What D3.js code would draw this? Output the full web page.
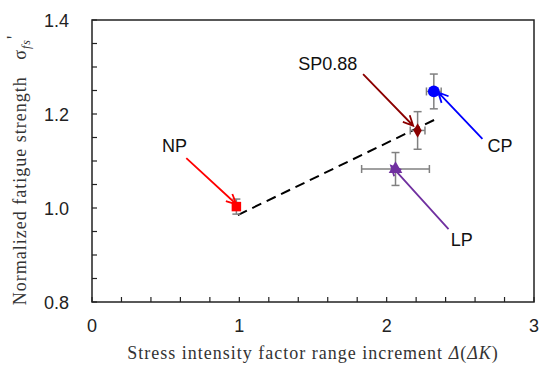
<!DOCTYPE html>
<meta charset="utf-8">
<head>
  <title>Normalized fatigue strength</title>
  <script src="https://d3js.org/d3.v7.min.js"></script>
  <style>
    body { margin: 0; background: #fff; }
    .tick-label { font-family: "Liberation Sans", Arial, sans-serif; font-size: 18px; fill: #222; }
    .axis-title { font-family: "Liberation Serif", "Times New Roman", serif; font-size: 18px; fill: #333; letter-spacing: 1px; }
    .note { font-family: "Liberation Sans", Arial, sans-serif; font-size: 18px; fill: #111; }
  </style>
</head>
<body>
<script>
  // Data
  var names = ["NP", "SP0.88", "CP", "LP"];
  var xValues = [0.98, 2.21, 2.32, 2.06];
  var yValues = [1.003, 1.165, 1.248, 1.083];
  var xErrors = [0.02, 0.05, 0.05, 0.23];
  var yErrors = [0.016, 0.04, 0.037, 0.035];
  var colors = ["#ff0000", "#8b0000", "#0000ff", "#7030a0"];
  var symbols = ["square", "diamond", "circle", "triangle"];

  // Linear trend (dashed)
  var trendX = [0.99, 2.34];
  var trendY = [0.985, 1.19];

  // Label and arrow tails, in data units; arrows end at the marker
  var labelX = [0.56, 1.60, 2.77, 2.51];
  var labelY = [1.119, 1.294, 1.119, 0.919];
  var tailX = [0.64, 1.84, 2.65, 2.42];
  var tailY = [1.106, 1.285, 1.147, 0.955];
  var headX = [0.98, 2.18, 2.35, 2.03];
  var headY = [1.008, 1.175, 1.246, 1.09];

  var xTicks = [0, 1, 2, 3];
  var yTicks = [0.8, 1.0, 1.2, 1.4];

  var width = 550, height = 375;
  var plotLeft = 92, plotRight = 534, plotTop = 20, plotBottom = 302;

  var x = d3.scaleLinear().domain([0, 3]).range([plotLeft, plotRight]);
  var y = d3.scaleLinear().domain([0.8, 1.4]).range([plotBottom, plotTop]);

  var svg = d3.select("body").append("svg")
    .attr("width", width)
    .attr("height", height);

  // Frame
  svg.append("rect")
    .attr("x", plotLeft).attr("y", plotTop)
    .attr("width", plotRight - plotLeft).attr("height", plotBottom - plotTop)
    .attr("fill", "none").attr("stroke", "#222").attr("stroke-width", 1.5);

  // Inner ticks
  var tickLen = 5;
  svg.append("g").selectAll("line")
    .data(d3.range(0, 3.0001, 0.2))
    .enter().append("line")
    .attr("x1", function(d) { return x(d); })
    .attr("x2", function(d) { return x(d); })
    .attr("y1", plotBottom).attr("y2", plotBottom - tickLen)
    .attr("stroke", "#222").attr("stroke-width", 1.2);

  svg.append("g").selectAll("line")
    .data(d3.range(0.8, 1.4001, 0.05))
    .enter().append("line")
    .attr("x1", plotLeft).attr("x2", plotLeft + tickLen)
    .attr("y1", function(d) { return y(d); })
    .attr("y2", function(d) { return y(d); })
    .attr("stroke", "#222").attr("stroke-width", 1.2);

  // Tick labels
  svg.append("g").selectAll("text")
    .data(xTicks)
    .enter().append("text")
    .attr("class", "tick-label")
    .attr("x", function(d) { return x(d); })
    .attr("y", plotBottom + 30)
    .attr("text-anchor", "middle")
    .text(function(d) { return d; });

  svg.append("g").selectAll("text")
    .data(yTicks)
    .enter().append("text")
    .attr("class", "tick-label")
    .attr("x", plotLeft - 23)
    .attr("y", function(d) { return y(d) + 7; })
    .attr("text-anchor", "end")
    .text(function(d) { return d.toFixed(1); });

  // Axis titles
  var xt = svg.append("text")
    .attr("class", "axis-title")
    .attr("x", (plotLeft + plotRight) / 2)
    .attr("y", 359)
    .attr("text-anchor", "middle");
  xt.append("tspan").text("Stress intensity factor range increment ");
  xt.append("tspan").attr("font-style", "italic").text("Δ");
  xt.append("tspan").text("(");
  xt.append("tspan").attr("font-style", "italic").text("ΔK");
  xt.append("tspan").text(")");

  var yt = svg.append("text")
    .attr("class", "axis-title")
    .attr("transform", "translate(26," + 170 + ") rotate(-90)")
    .attr("text-anchor", "middle");
  yt.append("tspan").text("Normalized fatigue strength\u00a0\u00a0\u00a0σ");
  yt.append("tspan").attr("font-size", "12px").attr("font-style", "italic").attr("dy", 4).text("fs");
  yt.append("tspan").attr("dy", -10).text("'");

  // Trend line
  svg.append("line")
    .attr("x1", x(trendX[0])).attr("y1", y(trendY[0]))
    .attr("x2", x(trendX[1])).attr("y2", y(trendY[1]))
    .attr("stroke", "#000").attr("stroke-width", 2)
    .attr("stroke-dasharray", "10,6");

  // Error bars
  var err = svg.append("g").attr("stroke", "#808080").attr("stroke-width", 1.5);
  var cap = 4;
  names.forEach(function(n, i) {
    var cx = x(xValues[i]), cy = y(yValues[i]);
    var y0 = y(yValues[i] - yErrors[i]), y1 = y(yValues[i] + yErrors[i]);
    var x0 = x(xValues[i] - xErrors[i]), x1 = x(xValues[i] + xErrors[i]);
    err.append("line").attr("x1", cx).attr("x2", cx).attr("y1", y0).attr("y2", y1);
    err.append("line").attr("x1", cx - cap).attr("x2", cx + cap).attr("y1", y0).attr("y2", y0);
    err.append("line").attr("x1", cx - cap).attr("x2", cx + cap).attr("y1", y1).attr("y2", y1);
    err.append("line").attr("x1", x0).attr("x2", x1).attr("y1", cy).attr("y2", cy);
    err.append("line").attr("x1", x0).attr("x2", x0).attr("y1", cy - cap).attr("y2", cy + cap);
    err.append("line").attr("x1", x1).attr("x2", x1).attr("y1", cy - cap).attr("y2", cy + cap);
  });

  // Markers
  var symbolType = {
    square: d3.symbolSquare, diamond: d3.symbolDiamond,
    circle: d3.symbolCircle, triangle: d3.symbolTriangle
  };
  var symbolSize = { square: 90, diamond: 60, circle: 110, triangle: 80 };
  svg.append("g").selectAll("path")
    .data(names)
    .enter().append("path")
    .attr("transform", function(d, i) { return "translate(" + x(xValues[i]) + "," + y(yValues[i]) + ")"; })
    .attr("d", function(d, i) { return d3.symbol().type(symbolType[symbols[i]]).size(symbolSize[symbols[i]])(); })
    .attr("fill", function(d, i) { return colors[i]; });

  // Arrows with open heads
  var arrows = svg.append("g").attr("fill", "none").attr("stroke-width", 1.8);
  names.forEach(function(n, i) {
    var x0 = x(tailX[i]), y0 = y(tailY[i]), x1 = x(headX[i]), y1 = y(headY[i]);
    var ang = Math.atan2(y1 - y0, x1 - x0), hl = 11, ha = 0.45;
    arrows.append("path")
      .attr("stroke", colors[i])
      .attr("d", "M" + x0 + "," + y0 + "L" + x1 + "," + y1 +
        "M" + (x1 - hl * Math.cos(ang - ha)) + "," + (y1 - hl * Math.sin(ang - ha)) +
        "L" + x1 + "," + y1 +
        "L" + (x1 - hl * Math.cos(ang + ha)) + "," + (y1 - hl * Math.sin(ang + ha)));
  });

  // Labels
  svg.append("g").selectAll("text")
    .data(names)
    .enter().append("text")
    .attr("class", "note")
    .attr("x", function(d, i) { return x(labelX[i]); })
    .attr("y", function(d, i) { return y(labelY[i]); })
    .attr("text-anchor", "middle")
    .text(function(d) { return d; });
</script>
</body>
</html>
